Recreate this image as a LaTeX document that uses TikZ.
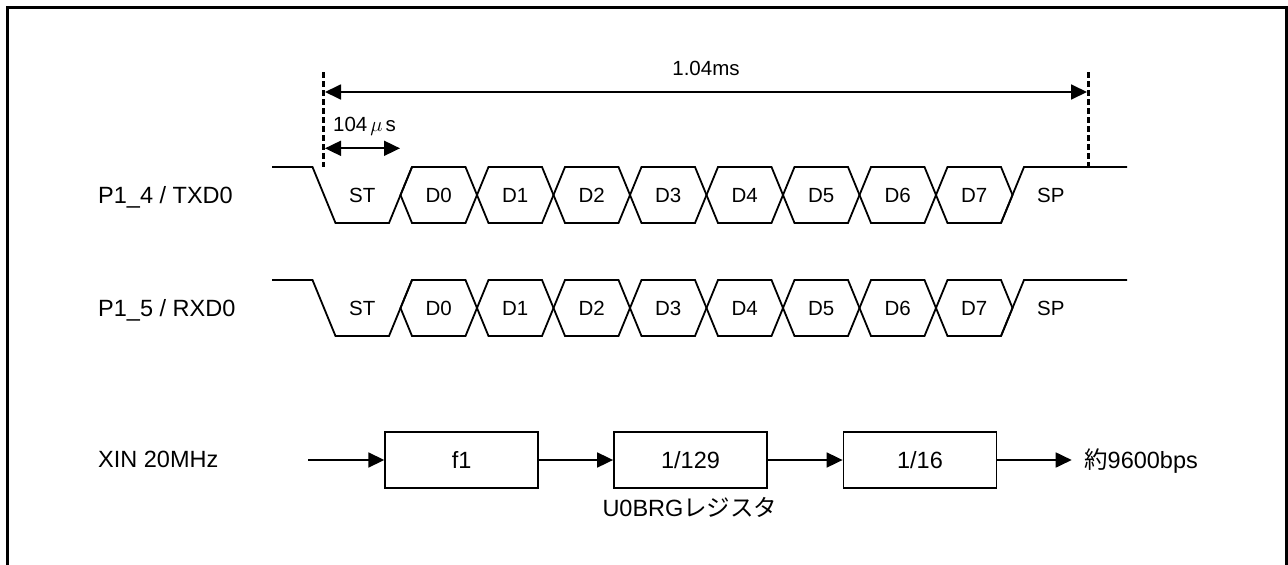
\documentclass[tikz,border=0pt]{standalone}
\usepackage{fontspec}
\setmainfont{Liberation Sans}
\newfontfamily\cjk{Noto Sans CJK JP}
\usetikzlibrary{arrows.meta}
\begin{document}
\begin{tikzpicture}[x=1pt,y=-1pt,
  sig/.style={line width=1.8pt, line join=miter},
  lbl/.style={font=\fontsize{23.5}{28}\selectfont, inner sep=0pt},
  bitlbl/.style={font=\fontsize{20.5}{24}\selectfont, inner sep=0pt},
  blk/.style={draw, line width=1.8pt, minimum width=153pt, minimum height=56pt, inner sep=0pt, font=\fontsize{23.5}{28}\selectfont},
  arr/.style={line width=1.8pt, -{Triangle[length=16pt,width=15pt]}},
  darr/.style={line width=1.8pt, {Triangle[length=16pt,width=15pt]}-{Triangle[length=16pt,width=15pt]}},
  vdash/.style={line width=3pt, dash pattern=on 6pt off 3pt}]
\useasboundingbox (0,0) rectangle (1288,565);
% frame
\draw[line width=3pt] (7.5,570) -- (7.5,7.7) -- (1286,7.7) -- (1286,570);

% signal labels
\node[lbl, anchor=base west] (txl) at (98,203) {P1\_4 / TXD0};
\node[lbl, anchor=base west] (rxl) at (98,316) {P1\_5 / RXD0};

% waveforms
\foreach \Y/\n in {167/tx,280/rx} {
  \draw[sig] (272,\Y) -- (312.5,\Y) -- (335.5,\Y+56) -- (389,\Y+56) -- (412,\Y);
  \draw[sig] (1001,\Y+56) -- (1024,\Y) -- (1127,\Y);
  \node[bitlbl, anchor=base] (\n-ST) at (362.25,\Y+35.5) {ST};
  \node[bitlbl, anchor=base] (\n-SP) at (1050.75,\Y+35.5) {SP};
  \foreach \k in {1,...,8} {
    \pgfmathsetmacro\a{324+76.5*\k}
    \pgfmathsetmacro\b{\a+76.5}
    \pgfmathtruncatemacro\d{\k-1}
    \draw[sig] (\a,\Y+28) -- (\a+11.5,\Y) -- (\b-11.5,\Y) -- (\b,\Y+28)
      -- (\b-11.5,\Y+56) -- (\a+11.5,\Y+56) -- cycle;
    \node[bitlbl, anchor=base] (\n-D\d) at ({(\a+\b)/2},\Y+35.5) {D\d};
  }
}

% dimension lines
\coordinate (dlt) at (323.5,72);
\coordinate (dlb) at (323.5,167);
\coordinate (drt) at (1088,72);
\coordinate (drb) at (1088,167);
\draw[vdash] (dlt) -- (dlb);
\draw[vdash] (drt) -- (drb);
\coordinate (ms1) at (325,92);
\coordinate (ms2) at (1087,92);
\draw[darr] (ms1) -- (ms2);
\node[bitlbl, anchor=base] (mslbl) at (706,75) {1.04ms};
\coordinate (us1) at (325,148.3);
\coordinate (us2) at (400,148.3);
\draw[darr] (us1) -- (us2);
\node[bitlbl, anchor=base west] (uslbl) at (333,131.7) {104\hspace{3pt}$\mu$\hspace{3pt}s};

% block diagram
\node[lbl, anchor=base west] (xin) at (98,467) {XIN 20MHz};
\coordinate (in) at (308,460);
\node[blk] (b1) at (461.7,460) {f1};
\node[blk] (b2) at (690.5,460) {1/129};
\node[blk] (b3) at (920,460) {1/16};
\coordinate (outend) at (1071.7,460);
\node[lbl, anchor=base west] (out) at (1084,468.3) {{\cjk 約}9600bps};
\node[lbl, anchor=base] (reg) at (690,516.7) {U0BRG{\cjk レジスタ}};
\draw[arr] (in) -- (b1);
\draw[arr] (b1) -- (b2);
\draw[arr] (b2) -- (b3);
\draw[arr] (b3) -- (outend);
\end{tikzpicture}
\end{document}
